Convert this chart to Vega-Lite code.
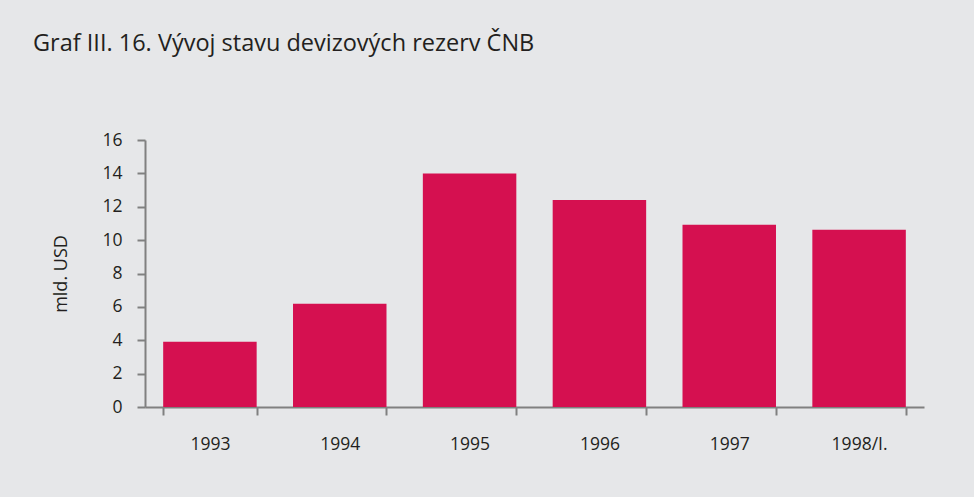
{
  "$schema": "https://vega.github.io/schema/vega-lite/v6.json",
  "width": 779,
  "height": 267,
  "autosize": {"type": "none"},
  "padding": {"left": 145, "top": 140, "right": 50, "bottom": 90},
  "background": "#e6e7e9",
  "title": {
    "text": "Graf III. 16. Vývoj stavu devizových rezerv ČNB",
    "anchor": "start",
    "frame": "group",
    "dx": -112,
    "offset": 57,
    "baseline": "alphabetic",
    "font": "Open Sans",
    "fontSize": 23.5,
    "fontWeight": "normal",
    "color": "#231f20"
  },
  "config": {
    "view": {"stroke": null},
    "font": "Open Sans"
  },
  "data": {
    "values": [
      {"rok": "1993", "rezervy": 3.91},
      {"rok": "1994", "rezervy": 6.19},
      {"rok": "1995", "rezervy": 14.0},
      {"rok": "1996", "rezervy": 12.41},
      {"rok": "1997", "rezervy": 10.92},
      {"rok": "1998/I.", "rezervy": 10.62}
    ]
  },
  "mark": {"type": "bar", "color": "#d51050"},
  "encoding": {
    "x": {
      "field": "rok",
      "type": "nominal",
      "sort": null,
      "scale": {"paddingInner": 0.28, "paddingOuter": 0.14},
      "axis": {
        "title": null,
        "labelAngle": 0,
        "tickBand": "extent",
        "tickSize": 8,
        "tickWidth": 2,
        "tickColor": "#808080",
        "domainColor": "#808080",
        "domainWidth": 2,
        "labelPadding": 20,
        "labelFontSize": 17.5,
        "labelColor": "#231f20",
        "labelFont": "Open Sans"
      }
    },
    "y": {
      "field": "rezervy",
      "type": "quantitative",
      "scale": {"domain": [0, 16], "nice": false},
      "axis": {
        "title": "mld. USD",
        "values": [0, 2, 4, 6, 8, 10, 12, 14, 16],
        "grid": false,
        "tickSize": 8,
        "tickWidth": 2,
        "tickColor": "#808080",
        "domainColor": "#808080",
        "domainWidth": 2,
        "labelPadding": 15,
        "labelFontSize": 17.5,
        "labelColor": "#231f20",
        "labelFont": "Open Sans",
        "titleFont": "Open Sans",
        "titleFontSize": 18,
        "titleFontWeight": "normal",
        "titleColor": "#231f20",
        "titlePadding": 31
      }
    }
  }
}
